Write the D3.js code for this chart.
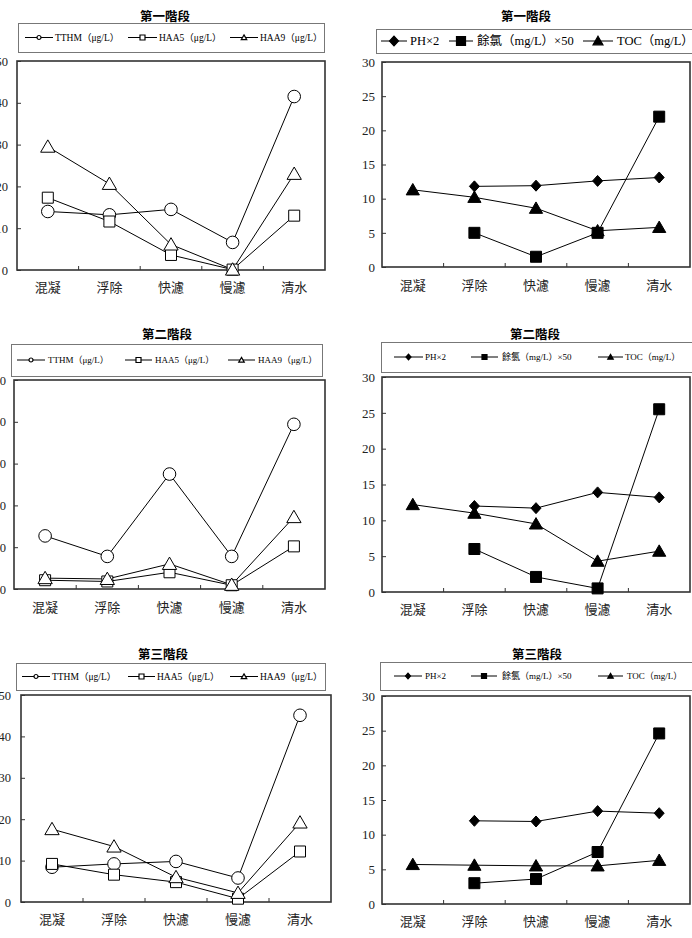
<!DOCTYPE html>
<html>
<head>
<meta charset="utf-8">
<script src="https://cdn.jsdelivr.net/npm/d3@7"></script>
<style>
  body { margin: 0; background: #fff; }
  svg { display: block; }
  .tick text { font-family: "Liberation Serif", "DejaVu Serif", serif; }
  .cat .tick text { font-family: "Noto Sans CJK TC", sans-serif; }
</style>
</head>
<body>
<div id="chart"></div>
<script>
// categories (process steps)
var categories = ["混凝", "浮除", "快濾", "慢濾", "清水"];

// DBP series, left column
var tthmNames = ["TTHM（μg/L）", "HAA5（μg/L）", "HAA9（μg/L）"];
var stage1TTHM = [14.0, 13.2, 14.5, 6.6, 41.5];
var stage1HAA5 = [17.3, 11.6, 3.6, 0.1, 13.0];
var stage1HAA9 = [29.5, 20.6, 6.1, 0.1, 23.0];
var stage2TTHM = [12.7, 7.8, 27.5, 7.8, 39.4];
var stage2HAA5 = [2.1, 1.8, 4.0, 0.9, 10.2];
var stage2HAA9 = [2.6, 2.4, 6.0, 1.0, 17.2];
var stage3TTHM = [8.4, 9.2, 9.8, 5.8, 45.1];
var stage3HAA5 = [9.2, 6.6, 4.8, 0.8, 12.2];
var stage3HAA9 = [17.6, 13.4, 6.0, 2.2, 19.2];

// water quality series, right column (null = not measured)
var qualityNames = ["PH×2", "餘氯（mg/L）×50", "TOC（mg/L）"];
var stage1PH = [null, 11.8, 11.9, 12.6, 13.1];
var stage1Cl = [null, 5.0, 1.5, 5.0, 22.0];
var stage1TOC = [11.3, 10.2, 8.6, 5.3, 5.8];
var stage2PH = [null, 12.0, 11.7, 13.9, 13.2];
var stage2Cl = [null, 6.0, 2.1, 0.5, 25.5];
var stage2TOC = [12.2, 11.0, 9.5, 4.3, 5.7];
var stage3PH = [null, 12.0, 11.9, 13.4, 13.1];
var stage3Cl = [null, 3.0, 3.6, 7.5, 24.6];
var stage3TOC = [5.7, 5.6, 5.5, 5.5, 6.3];

var leftTicks = [0, 10, 20, 30, 40, 50];
var rightTicks = [0, 5, 10, 15, 20, 25, 30];

var svg = d3.select("#chart")
    .append("svg")
    .attr("width", 692)
    .attr("height", 938);

// marker shapes
function marker(type, s) {
    if (type == "circle") {
        return "M" + s + ",0A" + s + "," + s + " 0 1,1 " + (-s) + ",0A" + s + "," + s + " 0 1,1 " + s + ",0Z";
    }
    if (type == "square") {
        return "M" + (-s) + "," + (-s) + "H" + s + "V" + s + "H" + (-s) + "Z";
    }
    if (type == "triangle") {
        return "M0," + (-s * 1.05) + "L" + (s * 1.1) + "," + (s * 0.85) + "L" + (-s * 1.1) + "," + (s * 0.85) + "Z";
    }
    // diamond
    return "M0," + (-s * 1.1) + "L" + s + ",0L0," + (s * 1.1) + "L" + (-s) + ",0Z";
}

function drawPanel(p) {
    var g = svg.append("g");

    // title
    g.append("text")
        .attr("x", p.title[0])
        .attr("y", p.title[1])
        .attr("text-anchor", "middle")
        .attr("dominant-baseline", "central")
        .style("font-family", "'Noto Sans CJK TC', sans-serif")
        .style("font-size", "12.5px")
        .style("font-weight", "bold")
        .text(p.titleText);

    // legend
    var lb = p.legendBox;
    g.append("rect")
        .attr("x", lb[0] + 0.5).attr("y", lb[1] + 0.5)
        .attr("width", lb[2]).attr("height", lb[3])
        .style("fill", "none")
        .style("stroke", "#777")
        .style("stroke-width", 1);

    var cy = lb[1] + lb[3] / 2;
    p.series.forEach(function (s, i) {
        var it = p.legendItems[i];
        g.append("line")
            .attr("x1", it[0]).attr("x2", it[1])
            .attr("y1", cy).attr("y2", cy)
            .style("stroke", "#000");
        g.append("path")
            .attr("transform", "translate(" + ((it[0] + it[1]) / 2) + "," + cy + ")")
            .attr("d", marker(s.shape, p.legendMarker * (s.shape == "circle" ? 0.8 : 1)))
            .style("fill", p.filled ? "#000" : "#fff")
            .style("stroke", "#000")
            .style("stroke-width", 1.2);
        g.append("text")
            .attr("x", it[2])
            .attr("y", cy)
            .attr("dominant-baseline", "central")
            .style("font-family", "'Liberation Serif', 'Noto Sans CJK TC', serif")
            .style("font-size", p.legendFont + "px")
            .text(s.name);
    });

    // scales
    var pl = p.plot;
    var x = d3.scaleBand()
        .domain(categories)
        .range([pl[0], pl[0] + pl[2]]);
    var y = d3.scaleLinear()
        .domain([0, d3.max(p.ticks)])
        .range([pl[1] + pl[3], pl[1]]);

    // y axis with inside ticks
    var ya = g.append("g")
        .attr("transform", "translate(" + pl[0] + ",0)")
        .call(d3.axisLeft(y).tickValues(p.ticks).tickSize(-4).tickPadding(p.labelPad));
    ya.select(".domain").remove();
    ya.selectAll(".tick line").style("stroke", "#333");
    ya.selectAll(".tick text").style("font-size", p.tickFont + "px").style("fill", "#222");

    // x separators (inside ticks between categories)
    g.selectAll(".sep")
        .data(categories.slice(1))
        .enter()
        .append("line")
        .attr("x1", function (d) { return x(d); })
        .attr("x2", function (d) { return x(d); })
        .attr("y1", pl[1] + pl[3])
        .attr("y2", pl[1] + pl[3] - 4)
        .style("stroke", "#333");

    // category labels
    var xa = g.append("g")
        .attr("class", "cat")
        .attr("transform", "translate(0," + p.catY + ")")
        .call(d3.axisBottom(x).tickSize(0).tickPadding(0));
    xa.select(".domain").remove();
    xa.selectAll(".tick text")
        .attr("dy", "0")
        .attr("dominant-baseline", "central")
        .style("font-size", "13px")
        .style("fill", "#222");

    // frame
    g.append("rect")
        .attr("x", pl[0]).attr("y", pl[1])
        .attr("width", pl[2]).attr("height", pl[3])
        .style("fill", "none")
        .style("stroke", "#333")
        .style("stroke-width", 1.6);

    // series
    var line = d3.line()
        .defined(function (d) { return d != null; })
        .x(function (d, i) { return x(categories[i]) + x.bandwidth() / 2; })
        .y(function (d) { return y(d); });

    p.series.forEach(function (s) {
        g.append("path")
            .datum(s.values)
            .attr("d", line)
            .style("fill", "none")
            .style("stroke", "#000")
            .style("stroke-width", 1);
    });

    p.series.forEach(function (s) {
        g.selectAll(null)
            .data(s.values.map(function (v, i) { return { v: v, c: categories[i] }; })
                .filter(function (d) { return d.v != null; }))
            .enter()
            .append("path")
            .attr("transform", function (d) {
                return "translate(" + (x(d.c) + x.bandwidth() / 2) + "," + y(d.v) + ")";
            })
            .attr("d", marker(s.shape, s.size))
            .style("fill", p.filled ? "#000" : "#fff")
            .style("stroke", "#000")
            .style("stroke-width", 1);
    });
}

function leftSeries(a, b, c) {
    return [
        { name: tthmNames[0], values: a, shape: "circle", size: 6.3 },
        { name: tthmNames[1], values: b, shape: "square", size: 5.5 },
        { name: tthmNames[2], values: c, shape: "triangle", size: 6.5 }
    ];
}

function rightSeries(a, b, c) {
    return [
        { name: qualityNames[0], values: a, shape: "diamond", size: 5 },
        { name: qualityNames[1], values: b, shape: "square", size: 5.5 },
        { name: qualityNames[2], values: c, shape: "triangle", size: 6 }
    ];
}

drawPanel({
    titleText: "第一階段", title: [165, 15],
    legendBox: [18, 23, 306, 29], legendItems: [[25, 53, 55], [128, 157, 159], [230, 258, 260]],
    legendFont: 9.5, legendMarker: 2.5, filled: false,
    plot: [17, 61, 308, 209], ticks: leftTicks, labelPad: 9, tickFont: 12.5, catY: 286,
    series: leftSeries(stage1TTHM, stage1HAA5, stage1HAA9)
});

drawPanel({
    titleText: "第一階段", title: [526, 15],
    legendBox: [376, 29, 316, 24], legendItems: [[381, 407, 410], [449, 473, 477], [583, 613, 617]],
    legendFont: 12.5, legendMarker: 4.5, filled: true,
    plot: [382, 62, 308, 205], ticks: rightTicks, labelPad: 7, tickFont: 13, catY: 284,
    series: rightSeries(stage1PH, stage1Cl, stage1TOC)
});

drawPanel({
    titleText: "第二階段", title: [167, 333],
    legendBox: [11, 344, 311, 32], legendItems: [[17, 45, 48], [125, 152, 155], [228, 255, 258]],
    legendFont: 9, legendMarker: 2.5, filled: false,
    plot: [14, 380, 311, 209], ticks: leftTicks, labelPad: 8, tickFont: 12.5, catY: 606,
    series: leftSeries(stage2TTHM, stage2HAA5, stage2HAA9)
});

drawPanel({
    titleText: "第二階段", title: [535, 333],
    legendBox: [381, 342, 311, 30], legendItems: [[394, 423, 425], [471, 498, 502], [598, 623, 625]],
    legendFont: 9, legendMarker: 2.5, filled: true,
    plot: [382, 377, 308, 215], ticks: rightTicks, labelPad: 7, tickFont: 13, catY: 608,
    series: rightSeries(stage2PH, stage2Cl, stage2TOC)
});

drawPanel({
    titleText: "第三階段", title: [163, 653],
    legendBox: [16, 663, 309, 27], legendItems: [[22, 50, 52], [128, 155, 157], [230, 258, 260]],
    legendFont: 9.5, legendMarker: 2.5, filled: false,
    plot: [21, 695, 310, 207], ticks: leftTicks, labelPad: 10, tickFont: 12.5, catY: 918,
    series: leftSeries(stage3TTHM, stage3HAA5, stage3HAA9)
});

drawPanel({
    titleText: "第三階段", title: [537, 653],
    legendBox: [380, 662, 312, 28], legendItems: [[394, 422, 425], [471, 497, 502], [598, 623, 627]],
    legendFont: 9, legendMarker: 2.5, filled: true,
    plot: [382, 696, 308, 208], ticks: rightTicks, labelPad: 7, tickFont: 13, catY: 920,
    series: rightSeries(stage3PH, stage3Cl, stage3TOC)
});
</script>
</body>
</html>
